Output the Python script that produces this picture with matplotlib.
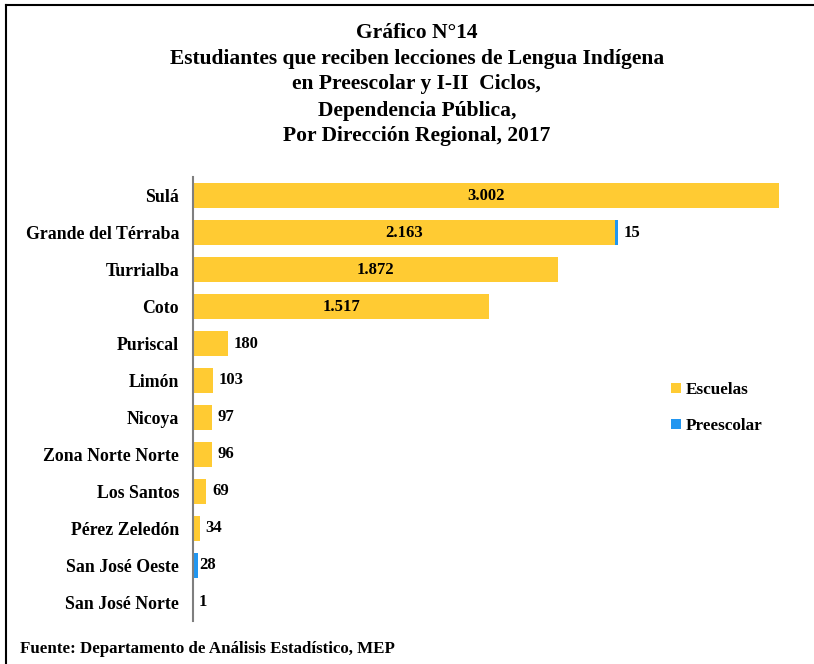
import numpy as np
import matplotlib
matplotlib.use("Agg")
import matplotlib.pyplot as plt
from matplotlib.lines import Line2D

# data
regions = ["Sulá", "Grande del Térraba", "Turrialba", "Coto", "Puriscal",
           "Limón", "Nicoya", "Zona Norte Norte", "Los Santos",
           "Pérez Zeledón", "San José Oeste", "San José Norte"]
escuelas = [3002, 2163, 1872, 1517, 180, 103, 97, 96, 69, 34, 0, 1]
preescolar = [0, 15, 0, 0, 0, 0, 0, 0, 0, 0, 28, 0]

title_lines = ["Gráfico N°14",
               "Estudiantes que reciben lecciones de Lengua Indígena",
               "en Preescolar y I-II  Ciclos,",
               "Dependencia Pública,",
               "Por Dirección Regional, 2017"]
source = "Fuente: Departamento de Análisis Estadístico, MEP"

yellow = "#FFCB33"
blue = "#2196F0"
serif = "Liberation Serif"


def fmt(v):
    # thousands separator as a dot
    return f"{v:,}".replace(",", ".")


fig = plt.figure(figsize=(8.14, 6.64), dpi=100)
ax = fig.add_axes([0.2371, 0.0648, 0.7459, 0.6686])

y = np.arange(len(regions))
ax.barh(y, escuelas, height=0.65, color=yellow, label="Escuelas")
ax.barh(y, preescolar, left=escuelas, height=0.65, color=blue, label="Preescolar")

ax.set_xlim(0, 3110)
ax.set_ylim(len(regions) - 0.5, -0.5)
ax.set_yticks(y)
ax.set_yticklabels(regions, fontfamily=serif, fontweight="bold", fontsize=12.8)
ax.tick_params(axis="y", length=0, pad=10)
ax.set_xticks([])
for side in ["top", "right", "bottom"]:
    ax.spines[side].set_visible(False)
ax.spines["left"].set_color("#7f7f7f")
ax.spines["left"].set_linewidth(1.5)

lab = dict(fontfamily=serif, fontweight="bold", fontsize=12, va="center")
for i, (e, p) in enumerate(zip(escuelas, preescolar)):
    if e > 1000:
        ax.text(e / 2, i, fmt(e), ha="center", **lab)
        if p > 0:
            ax.annotate(fmt(p), (e + p, i), xytext=(4, 0),
                        textcoords="offset points", ha="left", **lab)
    elif e > 0:
        ax.annotate(fmt(e), (e, i), xytext=(4, 0),
                    textcoords="offset points", ha="left", **lab)
    else:
        ax.annotate(fmt(p), (e + p, i), xytext=(0.5, 0),
                    textcoords="offset points", ha="left", **lab)

leg = ax.legend(loc="upper left", bbox_to_anchor=(0.806, 1 - 367 / 664),
                bbox_transform=fig.transFigure, frameon=False,
                handlelength=0.55, handleheight=0.55, handletextpad=0.3,
                labelspacing=1.15,
                prop={"family": serif, "weight": "bold", "size": 12.3})

# title lines, one baseline each
baselines = [38, 64, 89, 116, 141]
for line, b in zip(title_lines, baselines):
    fig.text(0.512, 1 - b / 664, line, ha="center", va="baseline",
             fontfamily=serif, fontweight="bold", fontsize=15.5)
fig.text(0.025, 1 - 649 / 664, source, ha="left", va="center",
         fontfamily=serif, fontweight="bold", fontsize=12.2)

# frame lines at the top and left of the picture
fig.add_artist(Line2D([6 / 814, 1], [1 - 5 / 664, 1 - 5 / 664],
                      transform=fig.transFigure, color="black", lw=1.5))
fig.add_artist(Line2D([6 / 814, 6 / 814], [0, 1 - 5 / 664],
                      transform=fig.transFigure, color="black", lw=1.5))

fig.savefig("out.png", dpi=100)
